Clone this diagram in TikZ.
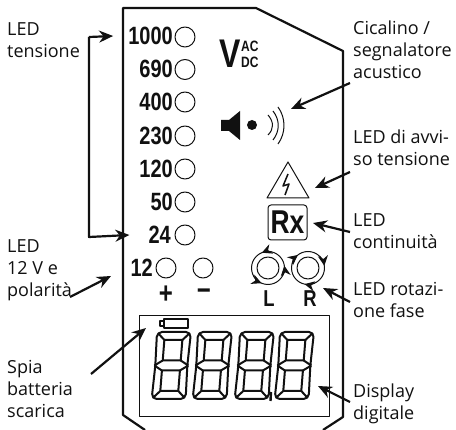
\documentclass[tikz,border=0pt]{standalone}
\usepackage{fontspec}
\setmainfont{Open Sans}
\newfontfamily\panelfont[FakeStretch=0.8]{Liberation Sans}
\usetikzlibrary{arrows.meta, positioning, calc}
\definecolor{Ink}{HTML}{111111}
\begin{document}
\begin{tikzpicture}[x=1pt,y=-1pt,line join=round,callout/.style={-{Stealth[length=14pt,width=12pt]}, line width=2.2pt, draw=Ink},caption/.style={anchor=north west, inner sep=0pt, align=left, text=Ink, font=\fontsize{18}{22}\selectfont},volt/.style={anchor=east, inner sep=0pt, text=Ink, font=\panelfont\bfseries\fontsize{25}{25}\selectfont},led/.style={circle, draw=Ink, line width=1pt, minimum size=20pt, inner sep=0pt},panelmark/.style={inner sep=0pt, text=Ink, font=\panelfont\bfseries\fontsize{23}{23}\selectfont},ringtip/.style={-{Stealth[length=10pt,width=10pt]}, line width=1pt, draw=Ink},thinline/.style={draw=Ink, line width=1pt},digitled/.pic={\begin{scope}[xslant=0.08,line width=2pt,draw=Ink]
\draw[rounded corners=5pt] (1,33.5) -- (0,0) -- (34,0) -- (33,33.5) -- (34,67) -- (0,67) -- cycle;
\draw (8,8) rectangle (26,28.5); \draw (8,38.5) rectangle (26,59);
\draw (0,33.5) -- (8,28.5) (0,33.5) -- (8,38.5) (34,33.5) -- (26,28.5) (34,33.5) -- (26,38.5);
\draw (1.5,1.5) -- (8,8) (32.5,1.5) -- (26,8) (1.5,65.5) -- (8,59) (32.5,65.5) -- (26,59);
\end{scope}}]
\useasboundingbox (0,0) rectangle (456,430);
\clip (0,0) rectangle (456,430);
\fill[white] (0,0) rectangle (456,430);
\draw[Ink, line width=2.2pt] (145,430) -- (123,415) -- (123,8) -- (256,8) -- (343,51) -- (343,417) -- (323,430);
\node[led] (led1000) at (185,37) {}; \node[led] (led690) at (185,69.5) {}; \node[led] (led400) at (185,102) {}; \node[led] (led230) at (185,136) {};
\node[led] (led120) at (185,169) {}; \node[led] (led50) at (185,202) {}; \node[led] (led24) at (185,235) {}; \node[led] (led12) at (166,268) {}; \node[led] (ledneg) at (203,268) {};
\node[volt] (v1000) at (173,36) {1000}; \node[volt] (v690) at (173,69) {690}; \node[volt] (v400) at (173,102) {400}; \node[volt] (v230) at (173,136) {230};
\node[volt] (v120) at (173,169) {120}; \node[volt] (v50) at (173,202) {50}; \node[volt] (v24) at (171,235) {24}; \node[volt] (v12) at (153,268) {12};
\node[panelmark, font=\panelfont\bfseries\fontsize{30}{30}\selectfont] (plus) at (166,295) {+}; \node[panelmark, font=\panelfont\bfseries\fontsize{30}{30}\selectfont] (minus) at (204,295) {\textminus};
\node[panelmark, anchor=base] (markL) at (269,307) {L}; \node[panelmark, anchor=base] (markR) at (310,307) {R};
\node[inner sep=0pt, text=Ink, font=\panelfont\bfseries\fontsize{40}{40}\selectfont, anchor=base] (bigV) at (230,68) {V};
\node[inner sep=0pt, text=Ink, font=\panelfont\bfseries\fontsize{15}{15}\selectfont, anchor=base west] (acmark) at (241,52) {AC};
\node[inner sep=0pt, text=Ink, font=\panelfont\bfseries\fontsize{15}{15}\selectfont, anchor=base west] (dcmark) at (241,68) {DC};
\fill[Ink] (221,120) -- (229,120) -- (240,111) -- (240,140) -- (229,131) -- (221,131) -- cycle;
\fill[Ink] (252,125) circle (5);
\draw[Ink, line width=1pt] (268,115) .. controls (274,122) and (274,129) .. (268,135);
\draw[Ink, line width=1pt] (273,111) .. controls (280,120) and (280,131) .. (273,140);
\draw[Ink, line width=1pt] (278,107) .. controls (286,118) and (286,133) .. (278,144);
\draw[thinline] (288,162) -- (309,198) -- (267,198) -- cycle;
\draw[Ink, line width=1.5pt] (288,174) -- (283,186) -- (289,184) -- (285,195);
\node[draw=Ink, line width=1pt, rounded corners=3pt, minimum width=39pt, minimum height=35pt, inner sep=0pt, text=Ink, font=\panelfont\bfseries\fontsize{33}{33}\selectfont] (rxbox) at (287.5,222.5) {Rx};
\coordinate (ringL) at (268,268); \coordinate (ringR) at (308,268);
\draw[thinline] (ringL) circle (11); \draw[thinline] (ringL) circle (16.5);
\draw[thinline] (ringR) circle (11); \draw[thinline] (ringR) circle (16.5);
\draw[ringtip] (ringL) ++(285:16.5) arc (285:248:16.5); \draw[ringtip] (ringL) ++(28:16.5) arc (28:-8:16.5); \draw[ringtip] (ringL) ++(150:16.5) arc (150:113:16.5);
\draw[ringtip] (ringR) ++(195:16.5) arc (195:232:16.5); \draw[ringtip] (ringR) ++(-45:16.5) arc (-45:-8:16.5); \draw[ringtip] (ringR) ++(65:16.5) arc (65:102:16.5);
\draw[thinline] (139,316) rectangle (329,417);
\draw[thinline, line width=1.2pt] (164,319) rectangle (188,328); \draw[thinline, line width=1.2pt] (164,321) -- (160,321) -- (160,326) -- (164,326);
\pic at (157,332) {digitled}; \pic at (198,332) {digitled}; \pic at (240,332) {digitled}; \pic at (280,332) {digitled};
\draw[Ink, line width=2.4pt] (271,392) -- (270.5,401);
\node[caption] (capTensione) at (7,22) {LED\\tensione};
\node[caption] (capPolarita) at (7,239.5) {LED\\12 V e\\polarità};
\node[caption] (capSpia) at (7,360.5) {Spia\\batteria\\scarica};
\node[caption] (capCicalino) at (353,21) {Cicalino /\\segnalatore\\acustico};
\node[caption] (capAvviso) at (353,130) {LED di avvi-\\so tensione};
\node[caption] (capContinuita) at (353,213) {LED\\continuità};
\node[caption] (capRotazione) at (353,282) {LED rotazi-\\one fase};
\node[caption] (capDisplay) at (353,384) {Display\\digitale};
\coordinate (brkTop) at (89,37); \coordinate (brkBot) at (89,237);
\coordinate (tailPolarita) at (70,297); \coordinate (tipPolarita) at (111,276);
\coordinate (tailSpia) at (91,374); \coordinate (tipSpia) at (146,328);
\coordinate (tailCicalino) at (350,83); \coordinate (tipCicalino) at (291,109);
\coordinate (tailAvviso) at (350,172); \coordinate (tipAvviso) at (315,188);
\coordinate (tailContinuita) at (350,232); \coordinate (tipContinuita) at (313,223);
\coordinate (tailRotazione) at (350,302); \coordinate (tipRotazione) at (323,288);
\coordinate (tailDisplay) at (350,402); \coordinate (tipDisplay) at (318,386);
\draw[callout] (brkTop) -- ([xshift=-15pt]v1000.west);
\draw[callout] (brkTop) -- (brkBot) -- ([xshift=-19pt]v24.west);
\draw[callout] (tailPolarita) -- (tipPolarita); \draw[callout] (tailSpia) -- (tipSpia);
\draw[callout] (tailCicalino) -- (tipCicalino); \draw[callout] (tailAvviso) -- (tipAvviso);
\draw[callout] (tailContinuita) -- (tipContinuita); \draw[callout] (tailRotazione) -- (tipRotazione);
\draw[callout] (tailDisplay) -- (tipDisplay);
\end{tikzpicture}
\end{document}
